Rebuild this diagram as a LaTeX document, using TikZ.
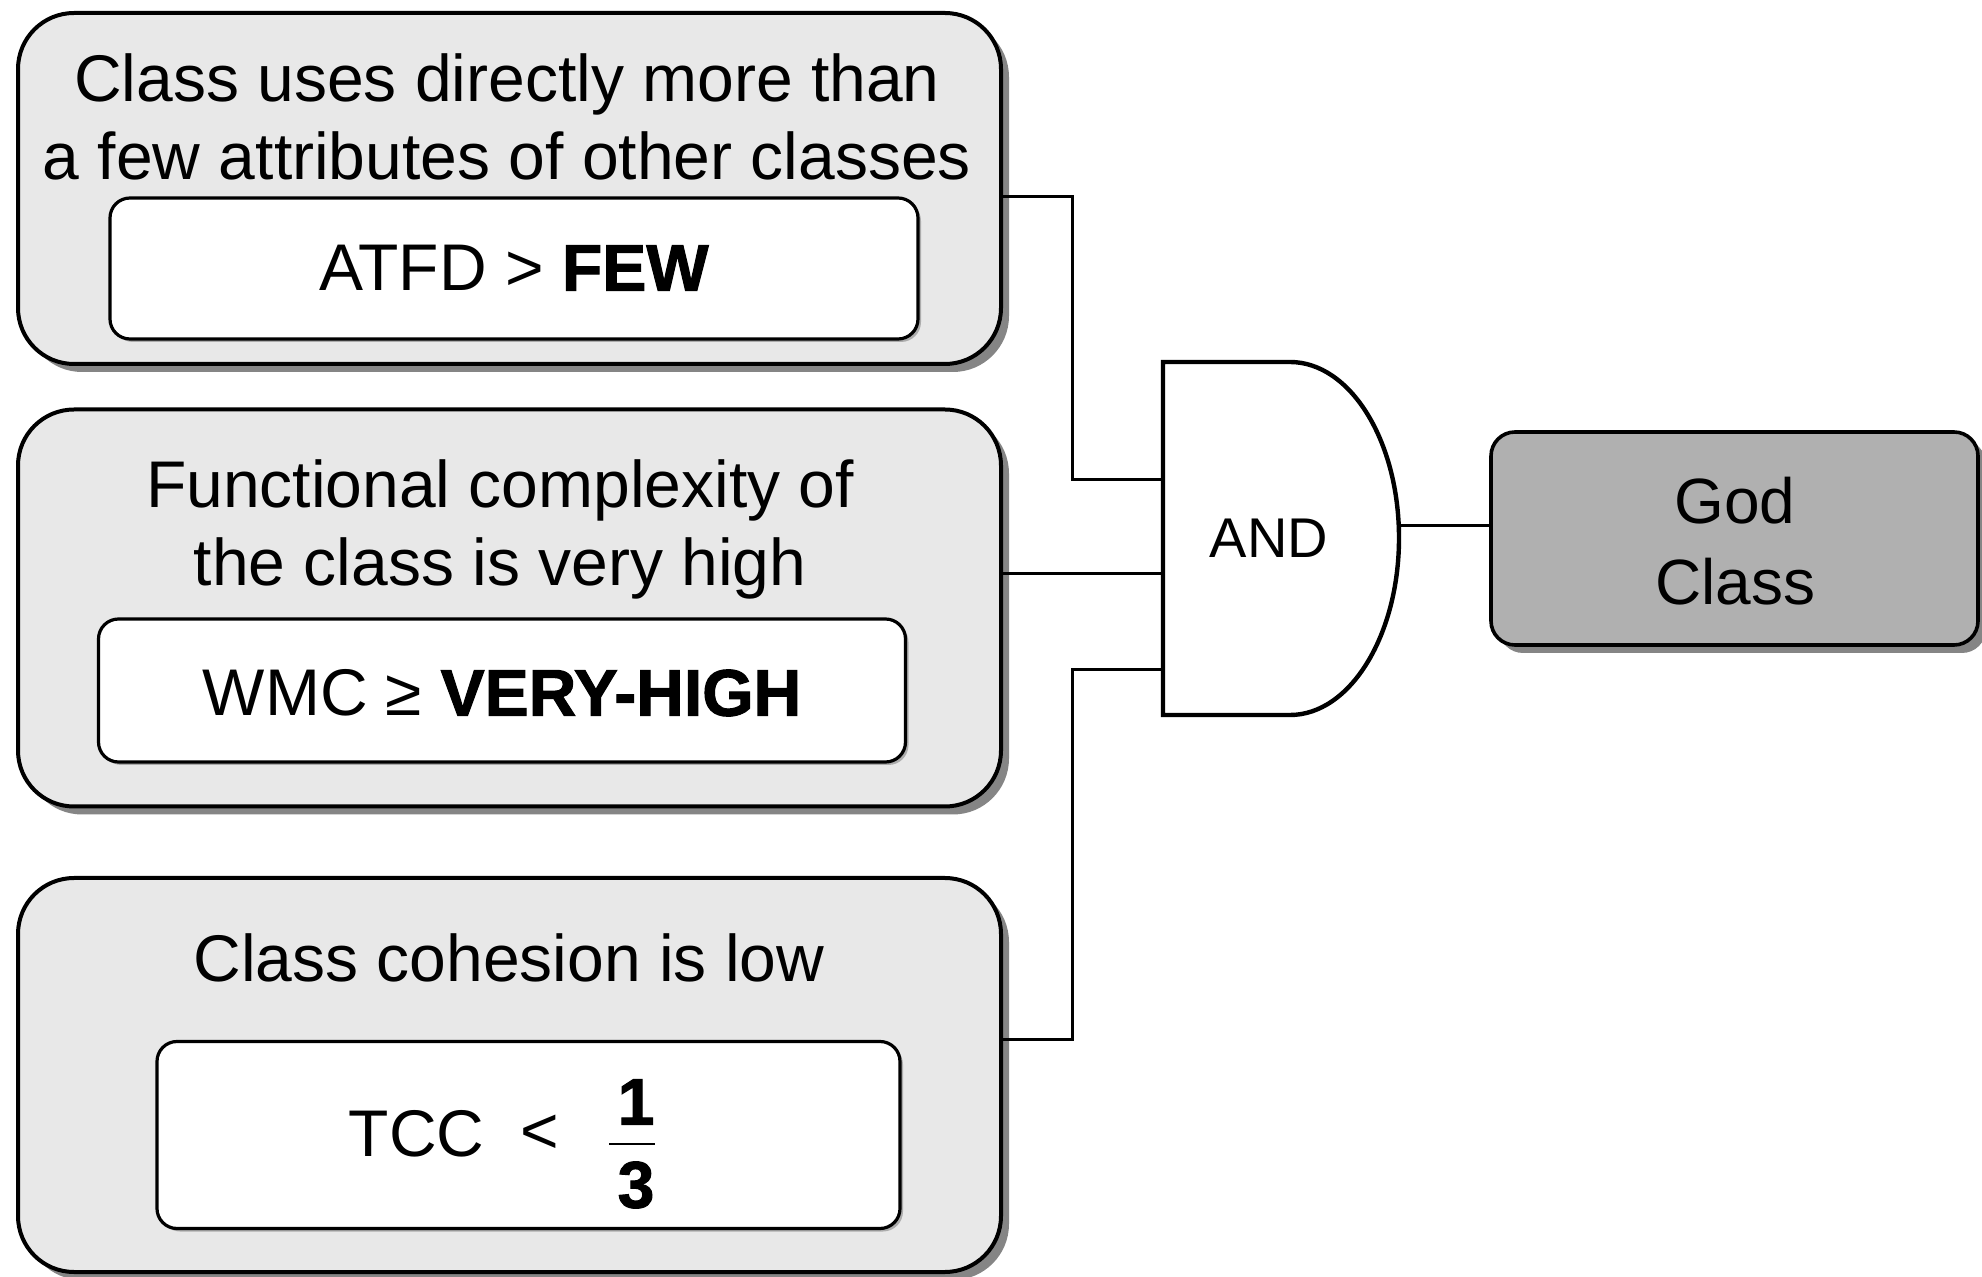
\documentclass[tikz,border=0pt]{standalone}
\usepackage{fontspec}
\setmainfont{Liberation Sans}
\newfontface\heavyface{Liberation Sans Bold}[FakeBold=1.6]
\usetikzlibrary{shadows}
\definecolor{boxfill}{HTML}{E8E8E8}
\definecolor{godfill}{HTML}{B0B0B0}
\definecolor{shadowc}{HTML}{858585}
\begin{document}
\begin{tikzpicture}[x=0.5pt,y=-0.5pt,
  outerbox/.style={draw, line width=2pt, rounded corners=28pt, fill=boxfill, inner sep=0pt,
    drop shadow={shadow xshift=4pt, shadow yshift=-4pt, fill=shadowc, opacity=1}},
  innerbox/.style={draw, line width=1.6pt, rounded corners=10pt, fill=white, inner sep=0pt,
    drop shadow={shadow xshift=1.5pt, shadow yshift=-1.5pt, fill=shadowc, opacity=0.6}},
  godbox/.style={draw, line width=1.8pt, rounded corners=12pt, fill=godfill, inner sep=0pt,
    drop shadow={shadow xshift=4pt, shadow yshift=-4pt, fill=shadowc, opacity=1}},
  txt/.style={inner sep=0pt, align=center, font=\fontsize{33}{39}\selectfont},
  gtxt/.style={inner sep=0pt, align=center, font=\fontsize{32}{40.5}\selectfont},
  conn/.style={line width=1.5pt},
  gate/.style={line width=2.2pt, fill=white}]
\useasboundingbox (0,0) rectangle (1982,1277);
\fill[white] (0,0) rectangle (1982,1277);

% outer boxes
\node[outerbox, minimum width=491.5pt, minimum height=175.5pt] (b1) at (509.5,188.5) {};
\node[outerbox, minimum width=491.5pt, minimum height=198.5pt] (b2) at (509.5,608) {};
\node[outerbox, minimum width=491.5pt, minimum height=197pt] (b3) at (509.5,1075) {};

% inner boxes
\node[innerbox, minimum width=404pt, minimum height=70.5pt] (i1) at (514,268.5) {};
\node[innerbox, minimum width=403.5pt, minimum height=71.5pt] (i2) at (502,690.5) {};
\node[innerbox, minimum width=371.5pt, minimum height=93.5pt] (i3) at (528.5,1135) {};

% titles
\node[txt] (t1) at (507,117) {Class uses directly more than\\a few attributes of other classes};
\node[txt] (t2) at (500,529) {Functional complexity of\\the class is very high};
\node[txt] (t3) at (509,958) {Class cohesion is low};

% conditions
\node[txt] (c1) at (514,268) {ATFD > {\heavyface FEW}};
\node[txt] (c2) at (502,693) {WMC ≥ {\heavyface VERY-HIGH}};
\node[txt] (tcc) at (416.5,1134) {TCC};
\node[txt] (lt) at (540,1134) {<};
\node[txt] (num) at (636,1102) {{\heavyface 1}};
\node[txt] (den) at (636,1185) {{\heavyface 3}};
\draw[line width=1pt] (num.south west |- 0,1144) ++(-8,0) coordinate (fl) -- (den.south east |- 0,1144) ++(10,0) coordinate (fr);

% AND gate
\draw[gate] (1163,362) -- (1290,362) .. controls (1350.2,362) and (1399,440.8) .. (1399,538)
  .. controls (1399,635.2) and (1350.2,715) .. (1290,715) -- (1163,715) -- cycle;
\node[inner sep=0pt, font=\fontsize{28}{32}\selectfont] (andt) at (1269,538) {AND};
\coordinate (in1) at (1163,480);
\coordinate (in2) at (1163,574);
\coordinate (in3) at (1163,670);
\coordinate (out) at (1398.5,526);
\coordinate (jx) at (1072,0);

% God class
\node[godbox, minimum width=243.5pt, minimum height=106.5pt] (god) at (1734.5,538.5) {};
\node[gtxt] (godt) at (1735,541) {God\\Class};

% connectors
\draw[conn] (b1.east |- i1.north) -| (jx |- in1) -- (in1);
\draw[conn] (b2.east |- in2) -- (in2);
\draw[conn] (b3.east |- i3.north) -| (jx |- in3) -- (in3);
\draw[conn] (out) -- (god.west |- out);
\end{tikzpicture}
\end{document}
